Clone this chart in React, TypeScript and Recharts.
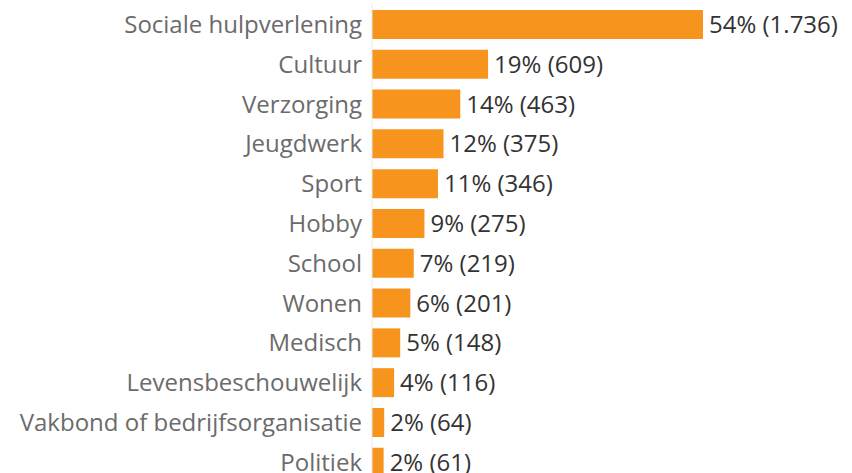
import React from 'react';
import { BarChart, Bar, XAxis, YAxis, LabelList } from 'recharts';

const categories = [
  'Sociale hulpverlening',
  'Cultuur',
  'Verzorging',
  'Jeugdwerk',
  'Sport',
  'Hobby',
  'School',
  'Wonen',
  'Medisch',
  'Levensbeschouwelijk',
  'Vakbond of bedrijfsorganisatie',
  'Politiek',
];
const counts = [1736, 609, 463, 375, 346, 275, 219, 201, 148, 116, 64, 61];
const percents = [54, 19, 14, 12, 11, 9, 7, 6, 5, 4, 2, 2];
const countLabels = ['1.736', '609', '463', '375', '346', '275', '219', '201', '148', '116', '64', '61'];

const data = categories.map((c, i) => ({
  name: c,
  value: counts[i],
  label: `${percents[i]}% (${countLabels[i]})`,
}));

const FONT = '"Open Sans", sans-serif';

export default function App() {
  return (
    <div style={{ position: 'absolute', left: 0, top: 0, width: 852, height: 473, overflow: 'hidden', background: '#fff' }}>
      <BarChart
        width={852}
        height={490}
        data={data}
        layout="vertical"
        margin={{ top: 4.6, right: 149, bottom: 7.8, left: 0 }}
        barCategoryGap="13.5%"
      >
        <XAxis type="number" domain={[0, 1736]} hide />
        <YAxis
          type="category"
          dataKey="name"
          width={372}
          interval={0}
          tickLine={false}
          tickSize={0}
          tickMargin={10}
          axisLine={{ stroke: '#e8e8e8' }}
          tick={{ fill: '#6b6b6b', fontSize: 24, fontFamily: FONT }}
        />
        <Bar dataKey="value" fill="#f7941d" isAnimationActive={false}>
          <LabelList
            dataKey="label"
            position="right"
            offset={6}
            style={{ fill: '#333333', fontSize: 24, fontFamily: FONT }}
          />
        </Bar>
      </BarChart>
    </div>
  );
}
